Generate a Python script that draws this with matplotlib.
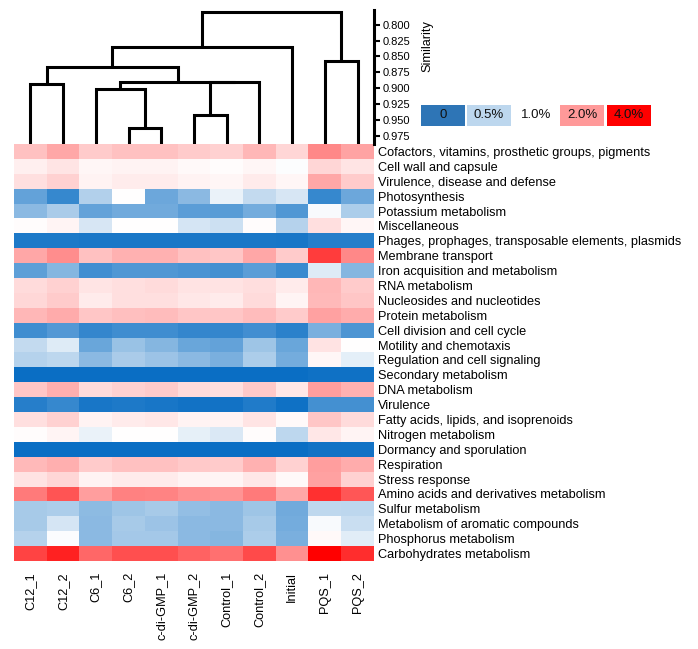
import numpy as np
import matplotlib
matplotlib.use("Agg")
import matplotlib.pyplot as plt
from matplotlib.colors import LinearSegmentedColormap
from matplotlib.patches import Rectangle

plt.rcParams["font.family"] = ["Liberation Sans", "DejaVu Sans"]

# samples (columns) and subsystems (rows)
samples = ["C12_1", "C12_2", "C6_1", "C6_2", "c-di-GMP_1", "c-di-GMP_2",
           "Control_1", "Control_2", "Initial", "PQS_1", "PQS_2"]
categories = [
    "Cofactors, vitamins, prosthetic groups, pigments",
    "Cell wall and capsule",
    "Virulence, disease and defense",
    "Photosynthesis",
    "Potassium metabolism",
    "Miscellaneous",
    "Phages, prophages, transposable elements, plasmids",
    "Membrane transport",
    "Iron acquisition and metabolism",
    "RNA metabolism",
    "Nucleosides and nucleotides",
    "Protein metabolism",
    "Cell division and cell cycle",
    "Motility and chemotaxis",
    "Regulation and cell signaling",
    "Secondary metabolism",
    "DNA metabolism",
    "Virulence",
    "Fatty acids, lipids, and isoprenoids",
    "Nitrogen metabolism",
    "Dormancy and sporulation",
    "Respiration",
    "Stress response",
    "Amino acids and derivatives metabolism",
    "Sulfur metabolism",
    "Metabolism of aromatic compounds",
    "Phosphorus metabolism",
    "Carbohydrates metabolism",
]

# relative abundance (%), estimated from the colours
values = np.array([
    [1.60, 1.85, 1.50, 1.60, 1.60, 1.50, 1.45, 1.70, 1.40, 2.20, 1.90],
    [1.15, 1.25, 1.08, 1.12, 1.12, 1.06, 1.03, 1.08, 0.98, 1.40, 1.25],
    [1.30, 1.45, 1.12, 1.18, 1.18, 1.12, 1.08, 1.20, 1.08, 1.85, 1.50],
    [0.25, 0.13, 0.47, 1.00, 0.28, 0.36, 0.85, 0.55, 0.70, 0.13, 0.28],
    [0.36, 0.45, 0.25, 0.29, 0.29, 0.23, 0.22, 0.30, 0.20, 0.95, 0.46],
    [1.02, 1.10, 0.70, 1.00, 1.00, 0.68, 0.62, 1.02, 0.48, 1.30, 1.08],
    [0.06, 0.06, 0.05, 0.05, 0.05, 0.05, 0.05, 0.05, 0.04, 0.08, 0.08],
    [1.85, 2.15, 1.60, 1.75, 1.75, 1.60, 1.55, 1.85, 1.50, 3.20, 2.20],
    [0.24, 0.35, 0.16, 0.20, 0.20, 0.18, 0.17, 0.23, 0.14, 0.75, 0.35],
    [1.35, 1.45, 1.25, 1.30, 1.35, 1.27, 1.27, 1.32, 1.20, 1.70, 1.50],
    [1.38, 1.50, 1.20, 1.30, 1.30, 1.22, 1.20, 1.35, 1.10, 1.68, 1.55],
    [1.70, 1.82, 1.55, 1.62, 1.65, 1.55, 1.55, 1.65, 1.50, 1.92, 1.80],
    [0.15, 0.21, 0.12, 0.15, 0.15, 0.12, 0.12, 0.16, 0.10, 0.32, 0.19],
    [0.55, 0.75, 0.27, 0.40, 0.35, 0.27, 0.25, 0.42, 0.27, 1.27, 1.00],
    [0.48, 0.50, 0.36, 0.45, 0.41, 0.36, 0.32, 0.46, 0.30, 1.08, 0.80],
    [0.00, 0.00, 0.00, 0.00, 0.00, 0.00, 0.00, 0.00, 0.00, 0.02, 0.02],
    [1.55, 1.78, 1.35, 1.45, 1.50, 1.35, 1.30, 1.52, 1.22, 1.95, 1.75],
    [0.08, 0.13, 0.04, 0.06, 0.04, 0.03, 0.03, 0.07, 0.02, 0.17, 0.17],
    [1.30, 1.45, 1.12, 1.20, 1.22, 1.12, 1.12, 1.25, 1.05, 1.55, 1.35],
    [1.03, 1.10, 0.85, 1.00, 1.00, 0.82, 0.72, 1.02, 0.50, 1.22, 1.10],
    [0.00, 0.00, 0.00, 0.00, 0.00, 0.00, 0.00, 0.00, 0.00, 0.03, 0.03],
    [1.68, 1.78, 1.50, 1.60, 1.60, 1.52, 1.50, 1.75, 1.45, 1.95, 1.80],
    [1.27, 1.40, 1.12, 1.20, 1.20, 1.12, 1.10, 1.22, 1.05, 1.92, 1.45],
    [2.40, 2.90, 1.95, 2.30, 2.25, 2.10, 2.05, 2.40, 1.85, 3.35, 2.85],
    [0.44, 0.46, 0.37, 0.42, 0.44, 0.39, 0.36, 0.42, 0.29, 0.52, 0.50],
    [0.44, 0.68, 0.36, 0.44, 0.41, 0.36, 0.36, 0.44, 0.30, 0.95, 0.60],
    [0.48, 0.97, 0.36, 0.43, 0.43, 0.36, 0.35, 0.46, 0.32, 1.06, 0.78],
    [3.10, 3.55, 2.65, 2.95, 2.95, 2.70, 2.50, 3.00, 2.10, 4.00, 3.40],
])

# dendrogram merges: (left cluster, right cluster, similarity); new ids start at 11
merges = [(3, 4, 0.9625), (5, 6, 0.942), (2, 11, 0.9016), (0, 1, 0.894),
          (12, 7, 0.8902), (13, 15, 0.8895), (14, 16, 0.8667), (9, 10, 0.8578),
          (17, 8, 0.8355), (18, 19, 0.7797)]
sim_ticks = [0.800, 0.825, 0.850, 0.875, 0.900, 0.925, 0.950, 0.975]

legend_labels = ["0", "0.5%", "1.0%", "2.0%", "4.0%"]
legend_colors = ["#2e75b6", "#bdd7ee", "#ffffff", "#ff9999", "#ff0000"]

# colour scale
stops = [0.0, 0.5, 1.0, 2.0, 4.0]
cmap = LinearSegmentedColormap.from_list(
    "abund", list(zip([0, 0.25, 0.5, 0.75, 1.0],
                      ["#0a6ec4", "#bdd7ee", "#ffffff", "#ff9999", "#ff0000"])))
scaled = np.interp(values, stops, [0, 0.25, 0.5, 0.75, 1.0])

W, H = 698, 649
fig = plt.figure(figsize=(W / 100, H / 100), dpi=100)


def px_axes(x0, y0, x1, y1):
    return fig.add_axes([x0 / W, 1 - y1 / H, (x1 - x0) / W, (y1 - y0) / H])


# heatmap
ax = px_axes(14, 144, 374, 561)
ax.imshow(scaled, cmap=cmap, vmin=0, vmax=1, aspect="auto", interpolation="nearest")
ax.set_xticks(range(len(samples)))
ax.set_xticklabels(samples, rotation=90, fontsize=9.2)
ax.set_yticks(range(len(categories)))
ax.set_yticklabels(categories, fontsize=9.2)
ax.yaxis.tick_right()
ax.tick_params(axis="y", length=0, pad=3)
ax.tick_params(axis="x", length=0, pad=8)
for s in ax.spines.values():
    s.set_visible(False)

# dendrogram
dax = px_axes(14, 10, 374, 144)
pos = {i: (float(i), 1.0) for i in range(len(samples))}
for k, (a, b, h) in enumerate(merges):
    xa, ha = pos[a]
    xb, hb = pos[b]
    dax.plot([xa, xa, xb, xb], [ha, h, h, hb], color="black", lw=2.2,
             solid_capstyle="butt", solid_joinstyle="miter", clip_on=True)
    pos[len(samples) + k] = ((xa + xb) / 2, h)
dax.set_xlim(-0.5, len(samples) - 0.5)
dax.set_ylim(0.9875, 0.777)
dax.set_xticks([])
dax.yaxis.tick_right()
dax.set_yticks(sim_ticks)
dax.set_yticklabels([f"{t:.3f}" for t in sim_ticks], fontsize=8)
dax.tick_params(axis="y", length=4, width=1.5, pad=2)
for side in ["top", "left", "bottom"]:
    dax.spines[side].set_visible(False)
dax.spines["right"].set_linewidth(2.2)
dax.patch.set_visible(False)

fig.text(427 / W, 1 - 46 / H, "Similarity", rotation=90, ha="center", va="center",
         fontsize=9.2)

# colour legend
lx = [421, 467, 514, 560, 607]
for x0, lab, col in zip(lx, legend_labels, legend_colors):
    fig.add_artist(Rectangle((x0 / W, 1 - 126 / H), 44 / W, 21 / H,
                             transform=fig.transFigure, facecolor=col,
                             edgecolor="none"))
    fig.text((x0 + 22) / W, 1 - 115.5 / H, lab, ha="center", va="center",
             fontsize=9.5, color="#111111")

fig.savefig("out.png", dpi=100)
